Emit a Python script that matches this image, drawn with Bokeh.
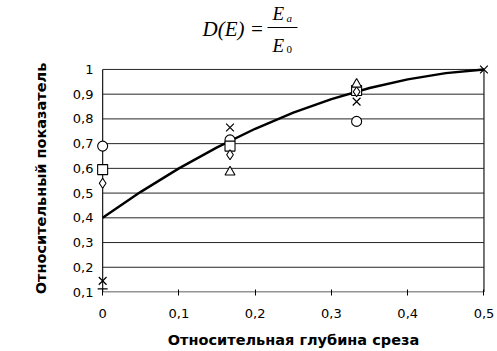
import numpy as np
from bokeh.plotting import figure
from bokeh.layouts import column
from bokeh.models import Range1d, FixedTicker
from bokeh.core.properties import value
from bokeh.embed import file_html
from bokeh.resources import INLINE

# ---- data ----
depth = [0.0, 0.167, 0.333, 0.5]
s_circle = [0.69, 0.715, 0.79, np.nan]
s_square = [0.595, 0.69, 0.915, np.nan]
s_diamond = [0.54, 0.655, 0.91, np.nan]
s_cross = [0.145, 0.765, 0.87, 1.0]
s_triangle = [np.nan, 0.585, 0.94, np.nan]
s_dash = [0.113, np.nan, np.nan, np.nan]

curve_x = [0.0, 0.05, 0.1, 0.15, 0.2, 0.25, 0.3, 0.35, 0.4, 0.45, 0.5]
curve_y = [0.40, 0.505, 0.60, 0.685, 0.76, 0.825, 0.88, 0.925, 0.96, 0.985, 1.0]

x_ticks = [0.0, 0.1, 0.2, 0.3, 0.4, 0.5]
x_labels = ["0", "0,1", "0,2", "0,3", "0,4", "0,5"]
y_ticks = [0.1, 0.2, 0.3, 0.4, 0.5, 0.6, 0.7, 0.8, 0.9, 1.0]
y_labels = ["0,1", "0,2", "0,3", "0,4", "0,5", "0,6", "0,7", "0,8", "0,9", "1"]

x_title = "Относительная глубина среза"
y_title = "Относительный показатель"

FONT = "DejaVu Sans"
SERIF = "Liberation Serif"
W = 497
LEFT = 93
RIGHT = 4
TOP_H = 58

# ---- formula header (data units = page pixels) ----
t = figure(width=W, height=TOP_H, x_range=Range1d(LEFT, W - RIGHT), y_range=Range1d(TOP_H, 0),
           x_axis_type=None, y_axis_type=None, toolbar_location=None,
           output_backend="svg", min_border_left=LEFT, min_border_right=RIGHT,
           min_border_top=0, min_border_bottom=0)
t.grid.visible = False
t.outline_line_color = None
t.text(x=[202], y=[28], text=["D(E) ="], text_font=value(SERIF), text_font_style="italic",
       text_font_size="21px", text_baseline="middle", text_align="left", text_color="black")
t.text(x=[272, 272], y=[13, 45], text=["E", "E"], text_font=value(SERIF), text_font_style="italic",
       text_font_size="19px", text_baseline="middle", text_align="left", text_color="black")
t.text(x=[286], y=[17], text=["a"], text_font=value(SERIF), text_font_style="italic",
       text_font_size="11px", text_baseline="middle", text_align="left", text_color="black")
t.text(x=[286], y=[49], text=["0"], text_font=value(SERIF),
       text_font_size="11px", text_baseline="middle", text_align="left", text_color="black")
t.segment(x0=[267], y0=[27], x1=[297], y1=[27], line_color="black", line_width=1)

# ---- main chart ----
p = figure(width=W, height=351 - TOP_H, x_range=Range1d(-0.012, 0.5125), y_range=Range1d(0.098, 1.02),
           toolbar_location=None, output_backend="svg",
           min_border_left=LEFT, min_border_right=RIGHT, min_border_top=6, min_border_bottom=59)
p.grid.visible = False
p.outline_line_color = None
p.background_fill_color = "white"
p.border_fill_color = "white"

# gridlines and frame lines from tick arrays
p.segment(x0=x_ticks[0], x1=x_ticks[-1], y0=y_ticks, y1=y_ticks, line_color="#262626", line_width=1)
p.segment(x0=[x_ticks[0], x_ticks[-1]], x1=[x_ticks[0], x_ticks[-1]],
          y0=[y_ticks[0]] * 2, y1=[y_ticks[-1]] * 2, line_color="#1a1a1a", line_width=1.2)

# curve
p.line(curve_x, curve_y, line_color="black", line_width=2.4)

# markers
mk = dict(size=10, line_color="black", fill_color="white", line_width=1.1)
p.scatter(depth, s_circle, marker="circle", **mk)
p.scatter(depth, s_square, marker="square", **mk)
p.scatter(depth, s_diamond, marker="diamond", **mk)
p.scatter(depth, s_triangle, marker="triangle", **mk)
p.scatter(depth, s_cross, marker="x", size=11, line_color="black", line_width=1.2)
p.scatter(depth, s_dash, marker="dash", size=10, line_color="black", line_width=1.2)

# axes
xa = p.xaxis[0]
xa.ticker = FixedTicker(ticks=x_ticks)
xa.major_label_overrides = {v: l for v, l in zip(x_ticks, x_labels)}
xa.axis_line_color = None
xa.major_tick_in = 3
xa.major_tick_out = 3
xa.minor_tick_out = 0
xa.minor_tick_line_color = None
xa.major_tick_line_color = "black"
xa.major_label_standoff = 13
xa.major_label_text_font = FONT
xa.major_label_text_font_size = "13px"
xa.major_label_text_color = "black"
xa.axis_label = x_title
xa.axis_label_text_font = FONT
xa.axis_label_text_font_style = "bold"
xa.axis_label_text_font_size = "14.5px"
xa.axis_label_text_color = "black"
xa.axis_label_standoff = 11

ya = p.yaxis[0]
ya.ticker = FixedTicker(ticks=y_ticks)
ya.major_label_overrides = {v: l for v, l in zip(y_ticks, y_labels)}
ya.axis_line_color = None
ya.major_tick_line_color = None
ya.major_tick_in = 0
ya.major_tick_out = 0
ya.minor_tick_out = 0
ya.minor_tick_line_color = None
ya.major_label_standoff = 0
ya.major_label_text_font = FONT
ya.major_label_text_font_size = "13px"
ya.major_label_text_color = "black"
ya.axis_label = y_title
ya.axis_label_text_font = FONT
ya.axis_label_text_font_style = "bold"
ya.axis_label_text_font_size = "14.5px"
ya.axis_label_text_color = "black"
ya.axis_label_standoff = 21

layout = column(t, p, spacing=0)
open("out.html", "w").write(file_html(layout, INLINE))
